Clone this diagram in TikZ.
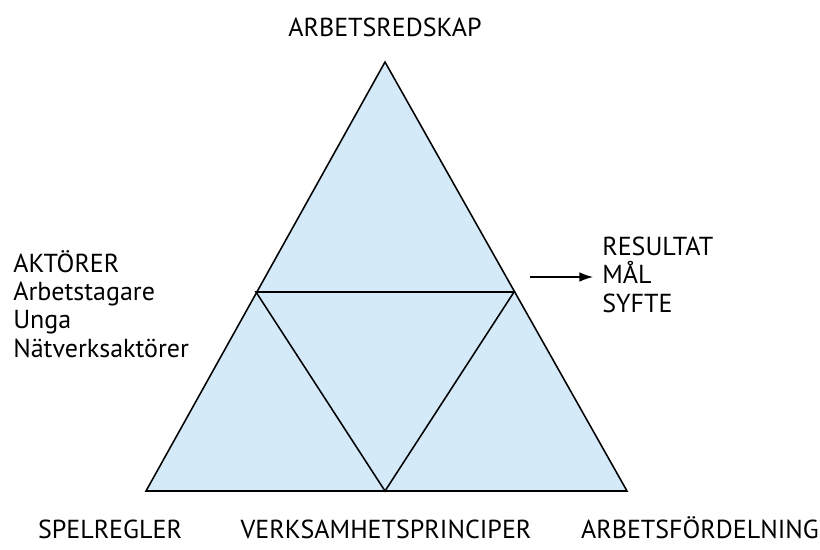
\documentclass[tikz,border=0pt]{standalone}
\usepackage{fontspec}
\setmainfont{PT Sans}
\usetikzlibrary{positioning,arrows.meta}
\definecolor{paleblue}{RGB}{213,234,249}

\tikzset{
	tri/.style={draw=black, line width=1.1pt, line join=miter},
	word/.style={font=\fontsize{18.5}{22}\selectfont, inner sep=0pt},
}

\begin{document}
\begin{tikzpicture}[x=0.025cm, y=-0.025cm]
	\useasboundingbox (0,0) rectangle (820,549);

	% corners of the big and the small triangle
	\coordinate (apex) at (385,62);
	\coordinate (baseL) at (146,491);
	\coordinate (baseR) at (627,491);
	\coordinate (midL) at (256,292);
	\coordinate (midR) at (514,292);
	\coordinate (midB) at (385,491);

	\fill[paleblue] (apex) -- (baseL) -- (baseR) -- cycle;
	\draw[tri] (apex) -- (baseL) -- (baseR) -- cycle;
	\draw[tri] (midL) -- (midR) -- (midB) -- cycle;

	% texts
	\node (tools) [word, anchor=base] at (385,36) {ARBETSREDSKAP};

	\node (actors) [word, anchor=base west] at (13,272) {AKTÖRER};
	\node (workers) [word, anchor=base west] at (13,300) {Arbetstagare};
	\node (young) [word, anchor=base west] at (13,328) {Unga};
	\node (network) [word, anchor=base west] at (13,357) {Nätverksaktörer};

	\node (result) [word, anchor=base west] at (602,255) {RESULTAT};
	\node (goal) [word, anchor=base west] at (602,283) {MÅL};
	\node (purpose) [word, anchor=base west] at (602,312) {SYFTE};

	\node (rules) [word, anchor=base] at (110,538) {SPELREGLER};
	\node (principles) [word, anchor=base] at (386,538) {VERKSAMHETSPRINCIPER};
	\node (division) [word, anchor=base] at (700,538) {ARBETSFÖRDELNING};

	\coordinate (arrowFrom) at (530,277);
	\coordinate (arrowTo) at (593,277);
	\path[draw, line width=0.9pt, -{Latex[length=3.4mm, width=2.4mm]}]
		(arrowFrom) -- (arrowTo);
\end{tikzpicture}
\end{document}
